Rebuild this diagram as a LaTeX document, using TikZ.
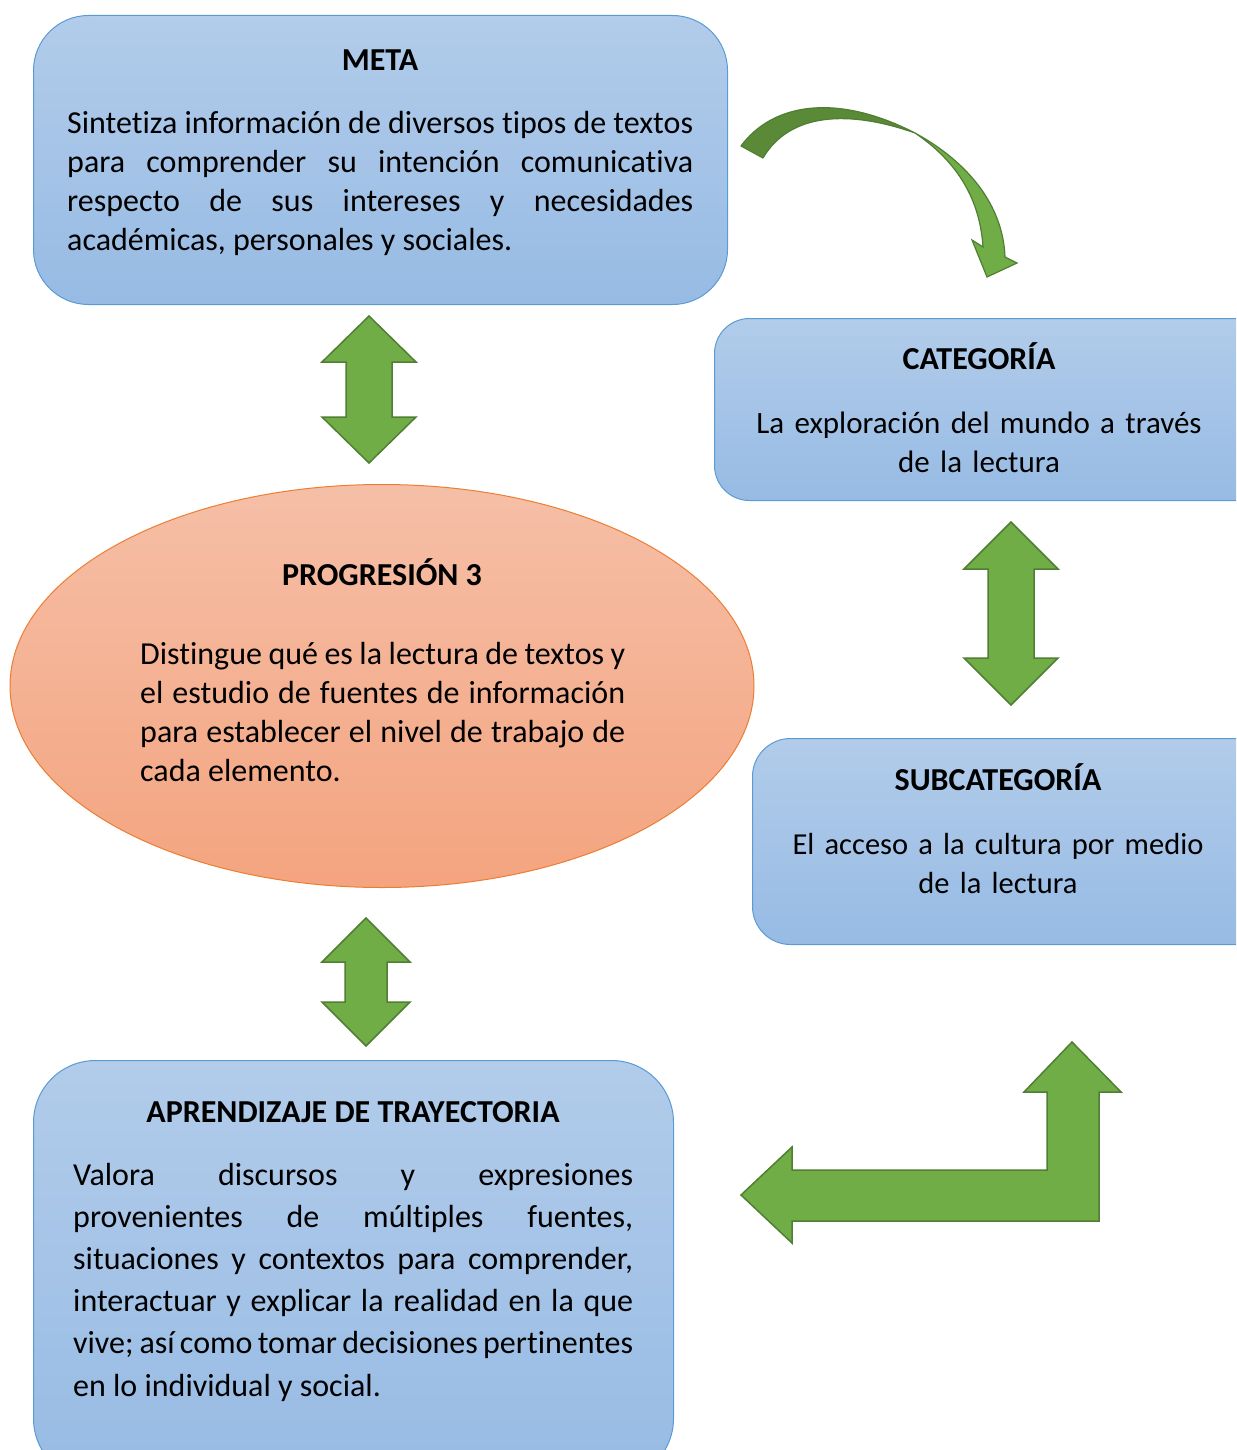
\documentclass[tikz,border=0pt]{standalone}
\usepackage{fontspec}
\setmainfont[Ligatures={NoCommon}]{Carlito}
\usetikzlibrary{shapes.geometric}
\definecolor{boxtop}{HTML}{B2CCEA}
\definecolor{boxbot}{HTML}{97BBE4}
\definecolor{boxline}{HTML}{5B9BD5}
\definecolor{elltop}{HTML}{F5BFA7}
\definecolor{ellbot}{HTML}{F4A47F}
\definecolor{ellline}{HTML}{ED7D31}
\definecolor{arrfill}{HTML}{70AD47}
\definecolor{arrdark}{HTML}{5A8A37}
\definecolor{arrline}{HTML}{507E32}
\begin{document}
\begin{tikzpicture}[x=1pt,y=-1pt,
  box/.style={draw=boxline, line width=1pt, top color=boxtop, bottom color=boxbot, inner sep=0pt},
  ellbox/.style={ellipse, draw=ellline, line width=1pt, top color=elltop, bottom color=ellbot, inner sep=0pt},
  blockarrow/.style={fill=arrfill, draw=arrline, line width=1.5pt, line join=miter},
  ttl/.style={font=\fontsize{32}{36}\selectfont\bfseries, inner sep=0pt, anchor=base},
  body/.style={font=\fontsize{32}{39}\selectfont, inner sep=0pt, anchor=base west, align=justify},
  cbody/.style={font=\fontsize{31}{39}\selectfont, inner sep=0pt, anchor=base, align=center, text width=520pt}
]
\useasboundingbox (0,0) rectangle (1236,1450);
\clip (0,0) rectangle (1236,1450);

% boxes
\node[box, rounded corners=55pt, minimum width=694pt, minimum height=289pt, anchor=north west] (meta) at (33,15) {};
\node[box, rounded corners=35pt, minimum width=560pt, minimum height=182pt, anchor=north west] (cat) at (714,318) {};
\node[ellbox, minimum width=744pt, minimum height=403pt] (prog) at (382,686) {};
\node[box, rounded corners=38pt, minimum width=520pt, minimum height=206pt, anchor=north west] (sub) at (752,738) {};
\node[box, rounded corners=62pt, minimum width=640pt, minimum height=420pt, anchor=north west] (apr) at (33,1060) {};

% titles
\node[ttl] (metat) at (380,71) {META};
\node[ttl] (catt) at (979,369) {CATEGORÍA};
\node[ttl] (progt) at (382,585) {PROGRESIÓN 3};
\node[ttl] (subt) at (998,790) {SUBCATEGORÍA};
\node[ttl] (aprt) at (353,1122) {APRENDIZAJE DE TRAYECTORIA};

% bodies
\node[body, text width=626pt] (metab) at (67,134) {Sintetiza información de diversos tipos de textos\linebreak para comprender su intención comunicativa\linebreak respecto de sus intereses y necesidades\linebreak académicas, personales y sociales.};
\node[cbody] (catb) at (979,433) {La exploración del mundo a través\\de la lectura};
\node[body, text width=485pt] (progb) at (140,664) {Distingue qué es la lectura de textos y\linebreak el estudio de fuentes de información\linebreak para establecer el nivel de trabajo de\linebreak cada elemento.};
\node[cbody, font=\fontsize{30.5}{39}\selectfont] (subb) at (998,854) {El acceso a la cultura por medio\\de la lectura};
\node[body, text width=560pt, font=\fontsize{32}{42.2}\selectfont] (aprb) at (73,1185) {Valora discursos y expresiones\linebreak provenientes de múltiples fuentes,\linebreak situaciones y contextos para comprender,\linebreak interactuar y explicar la realidad en la que\linebreak vive; así como tomar decisiones pertinentes\linebreak en lo individual y social.};

% double arrows
\draw[blockarrow] (369,316) -- (416,362) -- (392,362) -- (392,417) -- (416,417) -- (369,463) -- (322,417) -- (346,417) -- (346,362) -- (322,362) -- cycle;
\draw[blockarrow] (1011,522) -- (1058,569) -- (1034,569) -- (1034,658) -- (1058,658) -- (1011,705) -- (964,658) -- (988,658) -- (988,569) -- (964,569) -- cycle;
\draw[blockarrow] (366,918) -- (410,962) -- (387,962) -- (387,1002) -- (410,1002) -- (366,1046) -- (322,1002) -- (345,1002) -- (345,962) -- (322,962) -- cycle;

% bent arrow
\draw[blockarrow] (741,1195) -- (792,1147) -- (792,1170) -- (1047,1170) -- (1047,1092) -- (1024,1092) -- (1072,1042) -- (1121,1092) -- (1099,1092) -- (1099,1221) -- (792,1221) -- (792,1243) -- cycle;

% curved arrow
\draw[fill=arrdark, draw=arrline, line width=1.2pt, line join=round] (741,146) .. controls (772,104) and (835,92) .. (915,133) .. controls (850,110) and (790,112) .. (763,158) -- cycle;
\draw[fill=arrfill, draw=arrline, line width=1.2pt, line join=miter] (915,133) .. controls (968,162) and (1003,205) .. (1005,257) -- (1017,263) -- (987,277) -- (972,240) -- (983,247) .. controls (980,200) and (958,162) .. (915,133) -- cycle;
\end{tikzpicture}
\end{document}
